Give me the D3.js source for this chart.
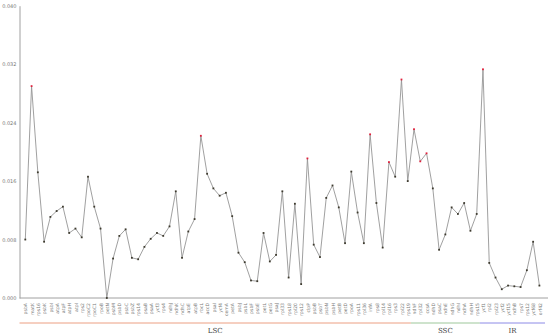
<!DOCTYPE html>
<html>
<head>
<meta charset="utf-8">
<script src="https://cdn.jsdelivr.net/npm/d3@7"></script>
<style>
  body { margin: 0; background: #fff; }
</style>
</head>
<body>
<div id="chart"></div>
<script>
// genes along the genome, in order
const genes = ['psbA','matK','rps16','psbK','psbI','atpA','atpF','atpH','atpI','rps2',
  'rpoC2','rpoC1','rpoB','petN','psbM','psbD','psbC','psbZ','rps14','psaB',
  'psaA','ycf3','rps4','ndhJ','ndhK','ndhC','atpE','atpB','rbcL','accD',
  'psaI','ycf4','cemA','petA','psbJ','psbL','psbF','psbE','petL','petG',
  'psaJ','rpl33','rps18','rpl20','rps12','clpP','psbB','psbT','psbN','psbH',
  'petB','petD','rpoA','rps11','rpl36','infA','rps8','rpl14','rpl16','rps3',
  'rpl22','rps19','ndhF','rpl32','ccsA','ndhD','psaC','ndhE','ndhG','ndhI',
  'ndhA','ndhH','rps15','ycf1','rpl2','rpl23','ycf2','ycf15','ndhB','rps7',
  'rps12','ycf68','orf42']

// nucleotide diversity (Pi) per gene
const piValues = [0.0080,0.0290,0.0172,0.0077,0.0111,0.0119,0.0125,0.0089,0.0095,0.0083,
  0.0166,0.0125,0.0095,0.0000,0.0054,0.0085,0.0094,0.0055,0.0053,0.0070,
  0.0081,0.0089,0.0085,0.0098,0.0146,0.0055,0.0091,0.0108,0.0222,0.0170,
  0.0150,0.0140,0.0144,0.0112,0.0062,0.0049,0.0024,0.0023,0.0089,0.0050,
  0.0059,0.0146,0.0028,0.0129,0.0019,0.0191,0.0073,0.0056,0.0137,0.0154,
  0.0124,0.0075,0.0173,0.0117,0.0075,0.0224,0.0130,0.0069,0.0186,0.0166,
  0.0299,0.0160,0.0231,0.0187,0.0198,0.0150,0.0066,0.0087,0.0124,0.0115,
  0.0130,0.0092,0.0115,0.0313,0.0048,0.0028,0.0012,0.0017,0.0016,0.0015,
  0.0038,0.0077,0.0017]

// genome regions and how many genes fall in each
const regionNames = ['LSC','SSC','IR']
const regionCounts = [62,11,10]
const regionColors = ['#ec9f82','#9dc79a','#8c8ae6']

const yTicks = [0, 0.008, 0.016, 0.024, 0.032, 0.04]
const highCut = 0.018

const width = 550, height = 335
const svg = d3.select('#chart')
  .append('svg')
  .attr('width', width)
  .attr('height', height)

// gene names repeat (rps12), so position by index
const data = genes.map((g, i) => ({i: i, gene: g, pi: piValues[i]}))

// Scales
const xScale = d3.scalePoint()
  .domain(d3.range(genes.length))
  .range([25.3, 539.4])

const yScale = d3.scaleLinear()
  .domain([0, 0.04])
  .range([298, 5.7])

const step = xScale.step()

// Y axis
const yAxis = d3.axisLeft(yScale)
  .tickValues(yTicks)
  .tickFormat(d3.format('.3f'))
  .tickSize(0)
  .tickSizeOuter(0)
  .tickPadding(3)

const yAxisGroup = svg.append('g')
  .attr('transform', 'translate(19.5,0)')
  .call(yAxis)
yAxisGroup.select('.domain').attr('stroke', '#a0a0a0')
yAxisGroup.selectAll('text')
  .attr('font-family', 'DejaVu Sans')
  .attr('font-size', '5px')
  .attr('fill', '#777')

// X axis
const xAxis = d3.axisBottom(xScale)
  .tickFormat(i => genes[i])
  .tickSize(0)
  .tickSizeOuter(0)

const xAxisGroup = svg.append('g')
  .attr('transform', `translate(0,${yScale(0)})`)
  .call(xAxis)
xAxisGroup.select('.domain').remove()
xAxisGroup.selectAll('text')
  .attr('transform', 'rotate(-90)')
  .attr('text-anchor', 'end')
  .attr('x', -5)
  .attr('y', 0)
  .attr('dy', '0.35em')
  .attr('font-family', 'DejaVu Sans')
  .attr('font-size', '4.6px')
  .attr('fill', '#777')

svg.append('line')
  .attr('x1', 19.5)
  .attr('x2', 548)
  .attr('y1', yScale(0))
  .attr('y2', yScale(0))
  .attr('stroke', '#a0a0a0')

// Line
const line = d3.line()
  .x(d => xScale(d.i))
  .y(d => yScale(d.pi))

svg.append('path')
  .datum(data)
  .attr('d', line)
  .attr('fill', 'none')
  .attr('stroke', '#959595')
  .attr('stroke-width', 0.9)

// Points
svg.selectAll('rect.pt')
  .data(data)
  .join('rect')
  .attr('class', 'pt')
  .attr('x', d => xScale(d.i) - 0.9)
  .attr('y', d => yScale(d.pi) - 0.9)
  .attr('width', 1.8)
  .attr('height', 1.8)
  .attr('fill', d => d.pi > highCut ? '#e0203c' : '#3d3a2e')

// Region brackets
let start = 0
regionNames.forEach((name, i) => {
  const first = start
  const last = start + regionCounts[i] - 1
  const x1 = i === 0 ? 19.5 : xScale(first) - step / 2
  const x2 = i === regionNames.length - 1 ? 545 : xScale(last) + step / 2
  svg.append('line')
    .attr('x1', x1)
    .attr('x2', x2)
    .attr('y1', 323)
    .attr('y2', 323)
    .attr('stroke', regionColors[i])
    .attr('stroke-width', 1)
  svg.append('text')
    .attr('x', (x1 + x2) / 2)
    .attr('y', 333)
    .attr('text-anchor', 'middle')
    .attr('font-family', 'DejaVu Serif')
    .attr('font-size', '7px')
    .attr('fill', '#444')
    .text(name)
  start += regionCounts[i]
})
</script>
</body>
</html>
